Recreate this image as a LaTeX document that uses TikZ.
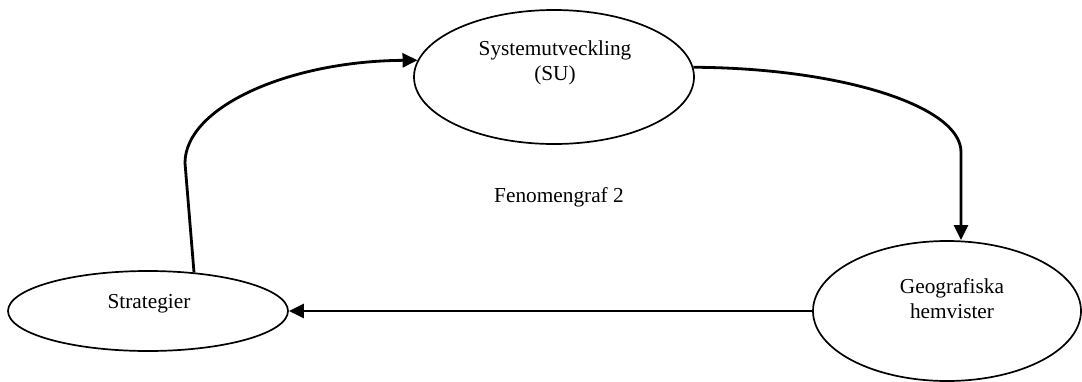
\documentclass[tikz,border=0pt]{standalone}
\usepackage{fontspec}
\setmainfont{Liberation Serif}
\usetikzlibrary{shapes.geometric,arrows.meta}

\begin{document}
\begin{tikzpicture}[x=1pt,y=-1pt,
  bubble/.style={ellipse, draw, line width=1.7pt, inner sep=0pt},
  label text/.style={anchor=base, inner sep=0pt, font=\fontsize{21.3}{25}\selectfont},
  conn/.style={line width=2.8pt, -{Triangle[length=15pt,width=14pt]}}]

  % page frame
  \useasboundingbox (0,0) rectangle (1082,381);

  % the three phenomena
  \node[bubble, minimum width=280pt, minimum height=80pt]  (strat) at (148,311) {};
  \node[bubble, minimum width=280pt, minimum height=134pt] (su)    at (554,77)  {};
  \node[bubble, minimum width=268pt, minimum height=140pt] (geo)   at (947,311) {};

  % their labels
  \node[label text] (stratT) at (149,308) {Strategier};
  \node[label text] (suT1)   at (555,55)  {Systemutveckling};
  \node[label text] (suT2)   at (555,80)  {(SU)};
  \node[label text] (geoT1)  at (952,293) {Geografiska};
  \node[label text] (geoT2)  at (952,318) {hemvister};
  \node[label text] (title)  at (559,202) {Fenomengraf 2};

  % bends of the connectors
  \coordinate (b1) at (185,163);
  \coordinate (b2) at (961,152);

  % Strategier -> SU
  \draw[conn] (strat.40) -- (b1)
     .. controls (185,107) and (289,61) .. (su.173);
  % SU -> Geografiska hemvister
  \draw[conn] (su.4)
     .. controls (841,68) and (961,106) .. (b2) -- (b2 |- geo.north);
  % Geografiska hemvister -> Strategier
  \draw[conn] (geo.west) -- (strat.east |- geo.west);
\end{tikzpicture}
\end{document}
